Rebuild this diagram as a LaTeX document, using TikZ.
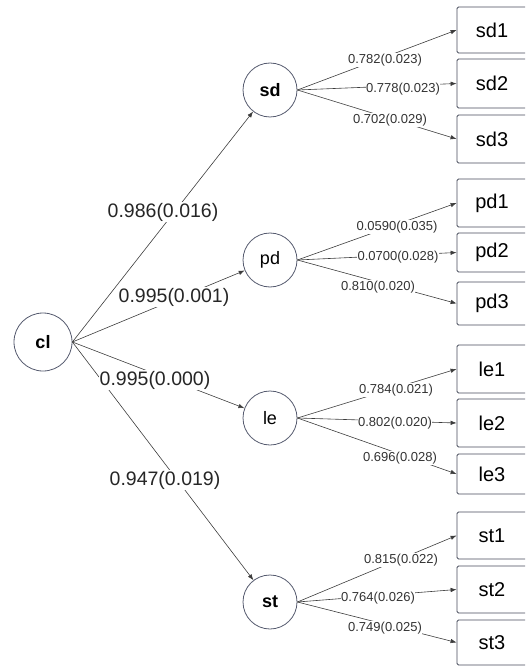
\documentclass[tikz,border=0pt]{standalone}
\usepackage{fontspec}
\setmainfont{Liberation Sans}
\usetikzlibrary{arrows.meta}
\definecolor{circcol}{RGB}{85,90,110}
\definecolor{boxcol}{RGB}{70,75,90}
\definecolor{linecol}{RGB}{60,60,60}
\newcommand{\lefttxt}[1]{#1\hspace*{30pt}}
\begin{document}
\begin{tikzpicture}[x=1pt,y=-1pt,
  circ/.style={circle,draw=circcol,line width=0.8pt,minimum size=54pt,inner sep=0pt,font=\fontsize{18}{18}\selectfont},
  leaf/.style={draw=boxcol,line width=0.8pt,rounded corners=1.5pt,minimum width=100pt,inner sep=0pt,font=\fontsize{20}{20}\selectfont},
  edge/.style={draw=linecol,line width=0.6pt,-{Latex[length=6pt,width=4.5pt]}},
  lab/.style={fill=white,inner sep=0.5pt,font=\fontsize{13}{13}\selectfont,text=black!80},
  biglab/.style={fill=white,inner sep=1pt,font=\fontsize{19.5}{19.5}\selectfont,text=black!85}]
\useasboundingbox (0,0) rectangle (525,668);
\clip (0,0) rectangle (525,668);
% latent nodes
\node[circ,minimum size=58pt] (cl) at (43,342) {\textbf{cl}};
\node[circ] (sd) at (270,90) {\textbf{sd}};
\node[circ] (pd) at (270,260) {pd};
\node[circ] (le) at (270,418) {le};
\node[circ] (st) at (270,602) {\textbf{st}};
% indicator boxes
\node[leaf,minimum height=46pt] (sd1) at (507,30) {\lefttxt{sd1}};
\node[leaf,minimum height=49pt] (sd2) at (507,83.5) {\lefttxt{sd2}};
\node[leaf,minimum height=48pt] (sd3) at (507,139) {\lefttxt{sd3}};
\node[leaf,minimum height=48pt] (pd1) at (507,203) {\lefttxt{pd1}};
\node[leaf,minimum height=39pt] (pd2) at (507,252.5) {\lefttxt{pd2}};
\node[leaf,minimum height=43pt] (pd3) at (507,303.5) {\lefttxt{pd3}};
\node[leaf,minimum height=48pt] (le1) at (507,369) {\lefttxt{le1}};
\node[leaf,minimum height=48pt] (le2) at (507,423) {\lefttxt{le2}};
\node[leaf,minimum height=40pt] (le3) at (507,474) {\lefttxt{le3}};
\node[leaf,minimum height=47pt] (st1) at (507,535.5) {\lefttxt{st1}};
\node[leaf,minimum height=47pt] (st2) at (507,589.5) {\lefttxt{st2}};
\node[leaf,minimum height=45pt] (st3) at (507,642.5) {\lefttxt{st3}};
% edges from cl
\draw[edge] (cl.east) -- (sd);
\draw[edge] (cl.east) -- (pd);
\draw[edge] (cl.east) -- (le);
\draw[edge] (cl.east) -- (st);
% edges to indicators
\foreach \f in {sd,pd,le,st}{
  \foreach \i in {1,2,3}{
    \draw[edge] (\f.east) -- (\f\i.west);
  }
}
% labels on cl edges
\node[biglab] (lsd) at (163,212) {0.986(0.016)};
\node[biglab] (lpd) at (174,297) {0.995(0.001)};
\node[biglab] (lle) at (155,380) {0.995(0.000)};
\node[biglab] (lst) at (165,480) {0.947(0.019)};
% labels on indicator edges
\node[lab] (lsd1) at (385,60) {0.782(0.023)};
\node[lab] (lsd2) at (403,89) {0.778(0.023)};
\node[lab] (lsd3) at (390,120) {0.702(0.029)};
\node[lab] (lpd1) at (397,227) {0.0590(0.035)};
\node[lab] (lpd2) at (398,257) {0.0700(0.028)};
\node[lab] (lpd3) at (378,287) {0.810(0.020)};
\node[lab] (lle1) at (396,390) {0.784(0.021)};
\node[lab] (lle2) at (395,423) {0.802(0.020)};
\node[lab] (lle3) at (400,458) {0.696(0.028)};
\node[lab] (lst1) at (401,560) {0.815(0.022)};
\node[lab] (lst2) at (378,598) {0.764(0.026)};
\node[lab] (lst3) at (385,628) {0.749(0.025)};
\end{tikzpicture}
\end{document}
